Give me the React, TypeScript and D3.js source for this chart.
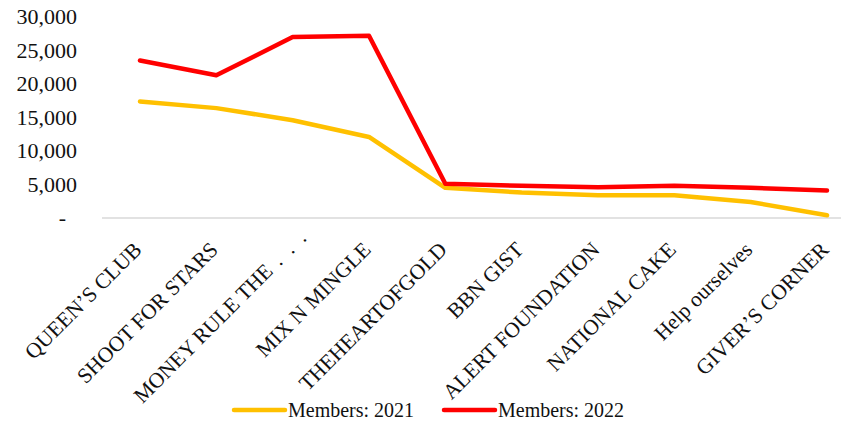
import React from "react";
import * as d3 from "d3";

const categories = [
  "QUEEN’S CLUB",
  "SHOOT FOR STARS",
  "MONEY RULE THE…",
  "MIX N MINGLE",
  "THEHEARTOFGOLD",
  "BBN GIST",
  "ALERT FOUNDATION",
  "NATIONAL CAKE",
  "Help ourselves",
  "GIVER’S CORNER",
];
const members2021 = [17400, 16400, 14600, 12100, 4500, 3800, 3400, 3400, 2400, 400];
const members2022 = [23500, 21300, 27000, 27200, 5100, 4800, 4600, 4800, 4500, 4100];
const yTicks = [0, 5000, 10000, 15000, 20000, 25000, 30000];
const seriesNames = ["Members: 2021", "Members: 2022"];
const colors = ["#FFC000", "#FF0000"];

export default function App() {
  const W = 841;
  const H = 421;
  const font = "'Liberation Serif', 'Times New Roman', serif";
  const x = d3.scalePoint<string>().domain(categories).range([140, 827]);
  const y = d3.scaleLinear().domain([0, 30000]).range([218, 17]);
  const line = d3
    .line<number>()
    .x((_, i) => x(categories[i]) as number)
    .y((d) => y(d));
  const fmt = (v: number) => (v === 0 ? "-" : d3.format(",")(v));
  const series = [members2021, members2022];
  return (
    <svg
      width={W}
      height={H}
      style={{ position: "absolute", left: 0, top: 0, background: "#fff" }}
      fontFamily={font}
    >
      <line x1={102} x2={841} y1={y(0)} y2={y(0)} stroke="#d9d9d9" strokeWidth={1.5} />
      {yTicks.map((t) => (
        <text
          key={t}
          x={t === 0 ? 66 : 77}
          y={y(t)}
          dy="0.33em"
          textAnchor="end"
          fontSize={22}
          fill="#111"
        >
          {fmt(t)}
        </text>
      ))}
      {categories.map((c) => {
        const cx = x(c) as number;
        const trunc = c.endsWith("…");
        const shift = trunc ? 14 : 0;
        return (
          <text
            key={c}
            transform={`translate(${cx + 3 + shift},${251 - shift}) rotate(-45)`}
            textAnchor="end"
            fontSize={21.5}
            fill="#111"
          >
            {trunc ? (
              <>
                {c.slice(0, -1)}
                <tspan letterSpacing={3}>{" . . ."}</tspan>
              </>
            ) : (
              c
            )}
          </text>
        );
      })}
      {series.map((s, i) => (
        <path
          key={i}
          d={line(s) || ""}
          fill="none"
          stroke={colors[i]}
          strokeWidth={4.5}
          strokeLinejoin="round"
          strokeLinecap="round"
        />
      ))}
      {seriesNames.map((n, i) => {
        const lx = i === 0 ? 234 : 444;
        return (
          <g key={n}>
            <line x1={lx} x2={lx + 51} y1={410} y2={410} stroke={colors[i]} strokeWidth={4.5} strokeLinecap="round" />
            <text x={lx + 54} y={410} dy="0.33em" fontSize={20} fill="#111">
              {n}
            </text>
          </g>
        );
      })}
    </svg>
  );
}
